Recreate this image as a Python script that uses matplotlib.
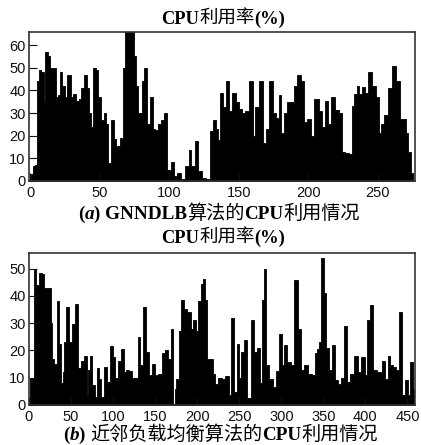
#!/usr/bin/env python3
"""CPU利用率对比图: GNNDLB 与 近邻负载均衡"""

import matplotlib
matplotlib.use('Agg')
import matplotlib.pyplot as plt

title_text = ['CPU', '利用率', '(%)']
caption_a = ['(', 'a', ') GNNDLB', '算法的', 'CPU', '利用情况']
caption_b = ['(', 'b', ') ', '近邻负载均衡算法的', 'CPU', '利用情况']

# 图(a)
x_a = [0, 1, 2.6, 4.5, 5, 7, 9, 10, 11.5, 13.5, 15, 17.5, 19, 20.5, 22, 24, 25.5, 27, 29, 30,
       32, 34, 36, 37.5, 40, 42, 43, 44, 46.5, 48, 50, 52, 54, 55, 56.5, 59, 61, 62.5, 64, 65.7,
       67.4, 69, 74, 75, 76.5, 78.5, 80, 81, 83, 85, 87, 89, 91, 93, 94.5, 97.5, 99.4, 102.5,
       104.7, 107, 110, 113, 115, 117, 120, 122, 125, 128, 130, 132.5, 134.4, 135.6, 137.5,
       139.5, 142, 144, 146.5, 149, 151, 153.7, 156, 159, 161, 163, 166, 168.6, 170.5, 173.4,
       176, 178, 179.7, 182, 184, 186, 188.6, 191, 193.6, 196.5, 198, 200.6, 203, 206, 209,
       210.7, 213, 215.5, 218, 221, 223.5, 225, 228, 230.7, 232.4, 234.3, 236, 238, 240, 242,
       245, 247.5, 250, 251.6, 253.5, 256, 259, 262, 265, 267, 269.7, 271.6, 273, 274.7, 276]
y_a = [0, 3, 6.5, 7, 44, 49, 48, 35, 57, 55, 50, 50, 37, 38, 48, 42, 37, 47, 47, 37,
       38.5, 35.5, 36, 41, 47, 41, 30, 24, 50, 49, 37, 27, 30, 25, 8, 27, 18.5, 15.5, 15.5, 19,
       50, 66, 66, 55, 42, 30, 30, 44, 50, 25, 37, 23, 22.5, 25, 27, 30, 5, 8.5,
       2, 3.5, 1, 6.5, 13.5, 6.5, 17.5, 4.5, 1.5, 1, 22, 27, 23, 18, 39,
       32.5, 44, 31, 39, 35, 32, 30, 31, 44, 20, 32.5, 44, 17, 23, 44,
       30, 28, 38, 21, 30, 35, 35, 42, 47, 44, 26, 27.5, 20, 36, 31,
       24, 35.5, 25, 37, 31.5, 30, 13, 12.5, 12, 33, 38.5, 42, 38.5, 41.5, 39,
       48, 42, 37, 21, 25, 29, 41, 51, 44, 27.5, 27.5, 21, 13, 3.7, 0]
xticks_a = [0, 50, 100, 150, 200, 250]
yticks_a = [0, 10, 20, 30, 40, 50, 60]

# 图(b)
x_b = [1, 5, 7, 10, 13.5, 17, 19.5, 24.6, 26.6, 28.6, 31, 34.5, 37.7, 39, 41, 43, 46, 49, 53, 56,
       60, 64, 67.5, 69.5, 71.5, 74, 77, 79.4, 82, 85, 87, 91, 95, 98.4, 101, 104, 107, 111, 114,
       117, 120.6, 124.6, 128, 130.5, 134, 137, 141, 144.4, 148, 151.6, 156, 160, 164, 167.5, 170,
       172.6, 174, 176.6, 179, 182, 185.7, 191, 194, 197, 200, 203, 205.6, 208.7, 210, 212.7, 217.5,
       220, 223, 227, 231, 236, 239, 242, 246, 248.5, 251, 253.6, 257.6, 261, 266, 269, 273, 276,
       279, 281, 283.4, 287.4, 292, 295, 300, 302, 305, 309, 313, 318, 321.5, 325.5, 329.4, 334,
       338, 341, 343.3, 346, 349, 352, 355, 359, 362, 366, 370, 373, 377, 380, 384, 389, 393, 397,
       401, 404, 407, 411, 415.6, 418, 421.5, 424.7, 428, 431.4, 435.4, 438.6, 442, 445.3, 448.5,
       451.7, 455, 458]
y_b = [10, 10, 50, 44, 48.5, 48, 43, 43, 30, 17, 15, 38, 22.5, 8, 12, 23, 36, 23, 29.5, 37,
       13.5, 16, 18, 3.5, 13, 18, 7.5, 3, 13.5, 9.5, 3, 14, 8.5, 21.5, 17.5, 10, 16, 20.5, 12,
       13, 12.5, 10, 10, 25, 14.5, 36, 19.5, 11, 15, 11, 11.5, 19, 20, 17, 27.7,
       0.5, 6, 9.5, 27, 38.5, 35, 34, 28, 31, 27, 38, 44.5, 46, 38.5, 17, 17,
       11.5, 7.7, 10, 9.5, 10.5, 3.5, 32, 4.7, 22.5, 10, 19.5, 24, 2.5, 31, 19.5, 21, 8,
       38.5, 50, 14.5, 9.5, 6.5, 12.5, 26, 14.5, 22, 15.7, 14.5, 45.7, 27.7, 13, 14.7, 11.5,
       11, 19, 20.5, 23, 54, 41, 21, 13, 22, 9, 7.7, 10, 29, 8.5, 11.5, 18, 12, 17.5,
       11, 31, 36.5, 13, 12, 12, 16, 9.5, 18, 14.5, 14, 13, 34, 3.5, 9,
       3.7, 15.7, 6]
xticks_b = [0, 50, 100, 150, 200, 250, 300, 350, 400, 450]
yticks_b = [0, 10, 20, 30, 40, 50]

W, H = 421, 445


def add_runs(fig, parts, x_px, y_px, size):
    """中文用常规字重, 西文用粗体, 括号里的字母是斜体; 逐段排版"""
    x = x_px
    renderer = fig.canvas.get_renderer()
    for part in parts:
        is_cjk = any(ord(c) > 0x2E80 for c in part)
        t = fig.text(x / W, 1 - y_px / H, part,
                     family='Noto Sans CJK SC' if is_cjk else 'Liberation Serif',
                     fontsize=size, weight='normal' if is_cjk else 'bold',
                     style='italic' if part in ('a', 'b') else 'normal',
                     va='baseline', ha='left')
        x += t.get_window_extent(renderer).width


def draw_panel(fig, box, x, y, xlim, ylim, xticks, yticks):
    left, top, right, bottom = box
    ax = fig.add_axes([left / W, 1 - bottom / H, (right - left) / W, (bottom - top) / H])
    ax.fill_between(x, y, 0, step='mid', color='black', linewidth=0.6)
    ax.set_xlim(*xlim)
    ax.set_ylim(*ylim)
    ax.set_xticks(xticks)
    ax.set_yticks(yticks)
    ax.tick_params(direction='in', length=6, width=0.8, labelsize=10.5, colors='#111111')
    ax.tick_params(axis='x', pad=3.5)
    ax.tick_params(axis='y', pad=2.5)
    for label in ax.get_xticklabels() + ax.get_yticklabels():
        label.set_family('Liberation Sans')
    for spine in ax.spines.values():
        spine.set_linewidth(1.2)
        spine.set_color('#333333')
    return ax


fig = plt.figure(figsize=(W / 100, H / 100), dpi=100)

draw_panel(fig, (29, 32, 415, 181), x_a, y_a, (-1, 277), (0, 65.8), xticks_a, yticks_a)
draw_panel(fig, (29, 253, 415, 405), x_b, y_b, (0, 459), (0, 55.7), xticks_b, yticks_b)

add_runs(fig, title_text, 161, 24, 13.3)
add_runs(fig, title_text, 161, 243, 13.3)
add_runs(fig, caption_a, 78, 219, 13.8)
add_runs(fig, caption_b, 63, 440, 13.8)

fig.savefig('out.png', dpi=100)
